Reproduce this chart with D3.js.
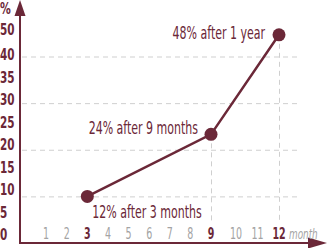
<!DOCTYPE html>
<html>
<head>
<meta charset="utf-8">
<script src="https://cdn.jsdelivr.net/npm/d3@7/dist/d3.min.js"></script>
<style>
  body { margin: 0; background: #fff; }
  svg { display: block; }
  text { font-family: "DejaVu Sans Condensed", "DejaVu Sans", sans-serif; }
</style>
</head>
<body>
<div id="chart"></div>
<script>
// data
var months = [3, 9, 12];
var plotted = [10, 23.3, 48.5];   // where the dots sit on the % axis
var notes = ['12% after 3 months', '24% after 9 months', '48% after 1 year'];
var yTicks = [0, 5, 10, 15, 20, 25, 30, 35, 40, 50];
var yGrid = [10, 20, 30, 40];
var xTicks = [1, 2, 3, 4, 5, 6, 7, 8, 9, 10, 11, 12];
var xStrong = [3, 9, 12];

var W = 327, H = 248;
var maroon = '#6b2838', grey = '#a3a3a3', gridc = '#cfcfcf';

var svg = d3.select('#chart').append('svg')
  .attr('width', W).attr('height', H);

var x = d3.scaleLinear().domain([0, 9, 10, 12]).range([25.5, 211, 236, 279]);
var y = d3.scaleLinear().domain([0, 40, 50]).range([243, 56.5, 31]);
// the tick labels are set a bit tighter than the grid in the original
var yLab = d3.scaleLinear().domain([0, 40, 50]).range([240, 60, 35]);

// squeeze the text sideways, the original face is a narrow one
var squeeze = function(sx, px, py) {
  return 'translate(' + px + ',' + py + ') scale(' + sx + ',1)';
};

// horizontal grid
svg.selectAll('line.hgrid')
  .data(yGrid)
  .enter().append('line')
  .attr('class', 'hgrid')
  .attr('x1', 22).attr('x2', 300)
  .attr('y1', function(d) { return y(d) + 0.5; })
  .attr('y2', function(d) { return y(d) + 0.5; })
  .style('stroke', gridc)
  .style('stroke-width', 1)
  .style('stroke-dasharray', '5,4');

// vertical guides under the 9 and 12 month dots
var guides = [1, 2];
svg.selectAll('line.vgrid')
  .data(guides)
  .enter().append('line')
  .attr('class', 'vgrid')
  .attr('x1', function(i) { return x(months[i]) + 0.5; })
  .attr('x2', function(i) { return x(months[i]) + 0.5; })
  .attr('y1', function(i) { return y(plotted[i]); })
  .attr('y2', 223)
  .style('stroke', gridc)
  .style('stroke-width', 1)
  .style('stroke-dasharray', '5,4');

// axes
svg.append('line')
  .attr('x1', 20).attr('x2', 20).attr('y1', 12).attr('y2', 244)
  .style('stroke', maroon).style('stroke-width', 2);
svg.append('path')
  .attr('d', 'M20,0 L25.5,16 L14.5,16 Z')
  .style('fill', maroon);
svg.append('line')
  .attr('x1', 19).attr('x2', 312).attr('y1', 243).attr('y2', 243)
  .style('stroke', maroon).style('stroke-width', 2);
svg.append('path')
  .attr('d', 'M327,243 L308,237.5 L308,248.5 Z')
  .style('fill', maroon);

// y labels
svg.selectAll('text.ylab')
  .data(yTicks)
  .enter().append('text')
  .attr('class', 'ylab')
  .attr('transform', function(d) { return squeeze(0.75, 0, yLab(d)); })
  .style('font-size', '15.5px')
  .style('font-weight', 'bold')
  .style('fill', maroon)
  .text(function(d) { return d; });

svg.append('text')
  .attr('transform', squeeze(0.75, 0, 14))
  .style('font-size', '16px')
  .style('font-weight', 'bold')
  .style('fill', maroon)
  .text('%');

// x labels
svg.selectAll('text.xlab')
  .data(xTicks)
  .enter().append('text')
  .attr('class', 'xlab')
  .attr('transform', function(d) { return squeeze(0.66, x(d), 238.5); })
  .attr('text-anchor', 'middle')
  .style('font-size', '16px')
  .style('font-weight', function(d) { return xStrong.indexOf(d) >= 0 ? 'bold' : 'normal'; })
  .style('fill', function(d) { return xStrong.indexOf(d) >= 0 ? maroon : grey; })
  .text(function(d) { return d; });

svg.append('text')
  .attr('transform', squeeze(0.68, 289, 238.5))
  .style('font-size', '14.5px')
  .style('font-style', 'italic')
  .style('fill', grey)
  .text('month');

// line + dots
var line = d3.line()
  .x(function(d, i) { return x(months[i]); })
  .y(function(d) { return y(d); });

svg.append('path')
  .datum(plotted)
  .attr('d', line)
  .style('fill', 'none')
  .style('stroke', maroon)
  .style('stroke-width', 2.5);

svg.selectAll('circle.dot')
  .data(plotted)
  .enter().append('circle')
  .attr('class', 'dot')
  .attr('cx', function(d, i) { return x(months[i]); })
  .attr('cy', function(d) { return y(d); })
  .attr('r', 6.5)
  .style('fill', maroon);

// notes next to the dots
var place = [
  {dx: 5, dy: 21.5, anchor: 'start'},
  {dx: -13, dy: -0.5, anchor: 'end'},
  {dx: -14, dy: 4.5, anchor: 'end'}
];
svg.selectAll('text.note')
  .data(notes)
  .enter().append('text')
  .attr('class', 'note')
  .attr('transform', function(d, i) {
    return squeeze(0.72, x(months[i]) + place[i].dx, y(plotted[i]) + place[i].dy);
  })
  .attr('text-anchor', function(d, i) { return place[i].anchor; })
  .style('font-size', '17px')
  .style('fill', maroon)
  .text(function(d) { return d; });
</script>
</body>
</html>
